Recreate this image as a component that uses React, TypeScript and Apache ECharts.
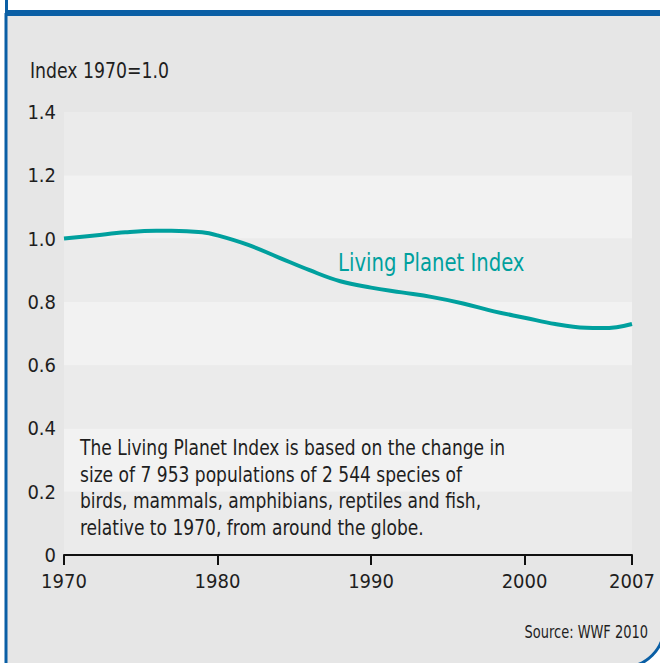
import React, { useEffect, useRef } from "react";
import * as echarts from "echarts";

const years = [1970, 1972, 1974, 1976, 1977, 1979, 1980, 1982, 1984, 1986, 1988, 1990, 1992, 1994, 1996, 1998, 2000, 2002, 2004, 2005, 2006, 2007];
const lpi = [1.0, 1.01, 1.02, 1.025, 1.025, 1.02, 1.01, 0.98, 0.94, 0.9, 0.865, 0.845, 0.83, 0.815, 0.795, 0.77, 0.75, 0.73, 0.718, 0.717, 0.72, 0.73];
const xTicks = [1970, 1980, 1990, 2000, 2007];
const yLabelName = "Index 1970=1.0";
const seriesName = "Living Planet Index";
const noteLines = [
  "The Living Planet Index is based on the change in",
  "size of 7 953 populations of 2 544 species of",
  "birds, mammals, amphibians, reptiles and fish,",
  "relative to 1970, from around the globe.",
];
const sourceText = "Source: WWF 2010";

const FONT = "'DejaVu Sans Condensed', 'DejaVu Sans', sans-serif";
const TEXT = "#1e1e1e";
const TEAL = "#00a09e";
const BLUE = "#0a5fa5";

export default function App() {
  const ref = useRef<HTMLDivElement>(null);
  useEffect(() => {
    document.body.style.margin = "0";
    const chart = echarts.init(ref.current!, null, { renderer: "svg" });
    chart.setOption({
      animation: false,
      backgroundColor: "#ffffff",
      textStyle: { fontFamily: FONT },
      grid: { left: 64, right: 28, top: 112, bottom: 108, containLabel: false },
      xAxis: {
        type: "value",
        min: 1970,
        max: 2007,
        axisLine: { show: true, lineStyle: { color: "#111", width: 2 } },
        axisTick: { show: true, length: 10, lineStyle: { color: "#111", width: 2 }, customValues: xTicks },
        axisLabel: {
          customValues: xTicks,
          margin: 16,
          fontSize: 20,
          color: TEXT,
          fontFamily: FONT,
          formatter: (v: number) => String(v),
        },
        splitLine: { show: false },
      },
      yAxis: {
        type: "value",
        min: 0,
        max: 1.4,
        interval: 0.2,
        axisLine: { show: false },
        axisTick: { show: false },
        splitLine: { show: false },
        splitArea: { show: true, areaStyle: { color: ["#ebebeb", "#f2f2f2"] } },
        axisLabel: {
          margin: 8,
          fontSize: 20,
          color: TEXT,
          fontFamily: FONT,
          padding: [0, 0, 6, 0],
          formatter: (v: number) => (v === 0 ? "0" : v.toFixed(1)),
        },
      },
      series: [
        {
          name: seriesName,
          type: "line",
          data: years.map((y, i) => [y, lpi[i]]),
          smooth: 0.4,
          showSymbol: false,
          lineStyle: { color: TEAL, width: 4 },
          z: 5,
        },
      ],
      graphic: [
        {
          type: "rect",
          z: -100,
          shape: { x: 6, y: 13, width: 658, height: 654, r: [0, 0, 40, 0] },
          style: { fill: "#e6e6e6", stroke: BLUE, lineWidth: 3 },
        },
        { type: "rect", z: 100, shape: { x: 5, y: 10, width: 660, height: 6 }, style: { fill: BLUE } },
        { type: "rect", z: 100, shape: { x: 5, y: 0, width: 3, height: 16 }, style: { fill: BLUE } },
        {
          type: "text",
          z: 100,
          x: 30,
          y: 71,
          scaleX: 0.873,
          style: { text: yLabelName, fontSize: 22, fill: TEXT, fontFamily: FONT, verticalAlign: "middle" },
        },
        {
          type: "text",
          z: 100,
          x: 338,
          y: 263,
          scaleX: 0.91,
          style: { text: seriesName, fontSize: 24, fill: TEAL, fontFamily: FONT, verticalAlign: "middle" },
        },
        {
          type: "text",
          z: 100,
          x: 80,
          y: 434,
          scaleX: 0.864,
          style: { text: noteLines.join("\n"), fontSize: 22, lineHeight: 26.7, fill: TEXT, fontFamily: FONT, verticalAlign: "top" },
        },
        {
          type: "text",
          z: 100,
          x: 648,
          y: 632,
          scaleX: 0.85,
          style: { text: sourceText, fontSize: 17, fill: TEXT, fontFamily: FONT, align: "right", verticalAlign: "middle" },
        },
      ],
    });
    return () => chart.dispose();
  }, []);
  return <div ref={ref} style={{ width: 660, height: 663, position: "absolute", left: 0, top: 0 }} />;
}
